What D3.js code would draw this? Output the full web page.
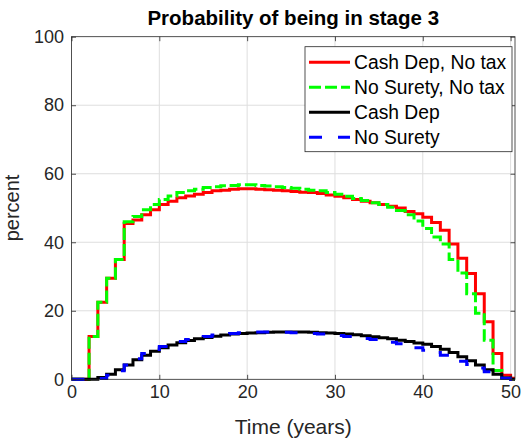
<!DOCTYPE html>
<html>
<head>
<meta charset="utf-8">
<script src="https://cdn.jsdelivr.net/npm/d3@7"></script>
<style>
  body { margin: 0; background: #fff; }
  svg { display: block; font-family: "Liberation Sans", Arial, Helvetica, sans-serif; }
</style>
</head>
<body>
<svg id="chart" width="526" height="442"></svg>
<script>
// Time grid (years); each value holds from its year until the next one
const years = d3.range(0, 51);

// Probability (%) of being in stage 3, per scenario
const cashDepNoTax = [0, 0, 12.5, 22.5, 29.5, 35, 45.5, 46.5, 48, 49.5,
  51, 52, 53, 53.5, 54, 54.5, 55, 55.2, 55.5, 55.6,
  55.6, 55.5, 55.3, 55.2, 55, 54.8, 54.6, 54.5, 54.2, 53.8,
  53.4, 53, 52.5, 52, 51.5, 51, 50.5, 50, 49, 48.3,
  47.3, 45.8, 43.5, 39.5, 35.3, 30.9, 25, 16.8, 7.5, 1.2, 0.3];

const noSuretyNoTax = [0, 0, 12.5, 22.5, 29.5, 35, 46, 47.5, 49.5, 51,
  52.5, 53.5, 54.5, 55, 55.5, 56, 56.2, 56.5, 56.6, 56.8,
  56.8, 56.6, 56.4, 56.2, 56, 55.8, 55.5, 55.2, 55, 54.5,
  54, 53.4, 52.8, 52.2, 51.5, 51, 50.2, 49.3, 48, 46.2,
  44, 41.5, 39.5, 35, 31, 25, 19.3, 11.4, 2.6, 0.3, 0];

const cashDep = [0, 0, 0, 0.5, 1.5, 2.8, 4.2, 5.7, 7, 8.2,
  9.2, 10, 10.7, 11.3, 11.8, 12.2, 12.6, 12.9, 13.2, 13.4,
  13.5, 13.6, 13.7, 13.8, 13.8, 13.8, 13.8, 13.7, 13.6, 13.5,
  13.4, 13.2, 13, 12.7, 12.4, 12.1, 11.8, 11.4, 11, 10.6,
  10.2, 9.6, 8.8, 7.8, 6.6, 5.4, 4.2, 2.8, 1.5, 0.4, 0];

const noSurety = [0, 0, 0, 0.2, 1.2, 2.5, 4.2, 6, 7.5, 8.7,
  9.6, 10.4, 11, 11.6, 12.1, 12.5, 12.9, 13.2, 13.4, 13.6,
  13.7, 13.8, 13.8, 13.8, 13.7, 13.6, 13.5, 13.4, 13.2, 13,
  12.8, 12.5, 12.2, 11.9, 11.6, 11.2, 10.8, 10.4, 9.8, 9.2,
  8.5, 7.8, 7, 6.2, 5.3, 4.3, 3.3, 2.2, 1, 0.3, 0];

const seriesNames = ["Cash Dep, No tax", "No Surety, No tax", "Cash Dep", "No Surety"];
const xTicks = [0, 10, 20, 30, 40, 50];
const yTicks = [0, 20, 40, 60, 80, 100];
const xMax = 50.5;

const series = [
  { name: seriesNames[0], values: cashDepNoTax,  color: "#ff0000", dash: null },
  { name: seriesNames[1], values: noSuretyNoTax, color: "#00ff00", dash: "12,4" },
  { name: seriesNames[2], values: cashDep,       color: "#000000", dash: null },
  { name: seriesNames[3], values: noSurety,      color: "#0000ff", dash: "13,16" }
];

const svg = d3.select("#chart");
const plot = { left: 71.5, right: 515, top: 36.7, bottom: 379.3 };

const x = d3.scaleLinear().domain([0, xMax]).range([plot.left, plot.right]);
const y = d3.scaleLinear().domain([0, 100]).range([plot.bottom, plot.top]);

const axisColor = "#262626";
const gridColor = "#dedede";

// Grid
const grid = svg.append("g");
grid.selectAll("line.gx").data(xTicks.filter(d => d > 0)).join("line")
  .attr("x1", d => x(d)).attr("x2", d => x(d))
  .attr("y1", plot.top).attr("y2", plot.bottom)
  .attr("stroke", gridColor).attr("stroke-width", 1);
grid.selectAll("line.gy").data(yTicks.filter(d => d > 0 && d < 100)).join("line")
  .attr("x1", plot.left).attr("x2", plot.right)
  .attr("y1", d => y(d)).attr("y2", d => y(d))
  .attr("stroke", gridColor).attr("stroke-width", 1);

// Stair lines
const line = d3.line()
  .x(d => x(d[0]))
  .y(d => y(d[1]))
  .curve(d3.curveStepAfter);

const lines = svg.append("g");
series.forEach(s => {
  const pts = years.map((t, i) => [t, s.values[i]]);
  pts.push([xMax, s.values[s.values.length - 1]]);
  lines.append("path")
    .datum(pts)
    .attr("d", line)
    .attr("fill", "none")
    .attr("stroke", s.color)
    .attr("stroke-width", 3)
    .attr("stroke-dasharray", s.dash)
    .attr("stroke-linejoin", "miter");
});

// Axes with inward ticks
const tickLen = 4.5;
const xAxis = svg.append("g")
  .attr("transform", `translate(0,${plot.bottom})`)
  .call(d3.axisBottom(x).tickValues(xTicks).tickFormat(d3.format("d"))
    .tickSizeInner(-tickLen).tickSizeOuter(0).tickPadding(6));
const yAxis = svg.append("g")
  .attr("transform", `translate(${plot.left},0)`)
  .call(d3.axisLeft(y).tickValues(yTicks).tickFormat(d3.format("d"))
    .tickSizeInner(-tickLen).tickSizeOuter(0).tickPadding(7.5));
const xTop = svg.append("g")
  .attr("transform", `translate(0,${plot.top})`)
  .call(d3.axisTop(x).tickValues(xTicks).tickFormat("")
    .tickSizeInner(-tickLen).tickSizeOuter(0));
const yRight = svg.append("g")
  .attr("transform", `translate(${plot.right},0)`)
  .call(d3.axisRight(y).tickValues(yTicks).tickFormat("")
    .tickSizeInner(-tickLen).tickSizeOuter(0));

[xAxis, yAxis, xTop, yRight].forEach(g => {
  g.select(".domain").remove();
  g.selectAll(".tick line").attr("stroke", axisColor).attr("stroke-width", 0.8);
  g.selectAll(".tick text").attr("fill", axisColor)
    .style("font-size", "18px").style("font-family", "'Liberation Sans', Arial, sans-serif");
});

// Axes box
svg.append("rect")
  .attr("x", plot.left).attr("y", plot.top)
  .attr("width", plot.right - plot.left).attr("height", plot.bottom - plot.top)
  .attr("fill", "none").attr("stroke", axisColor).attr("stroke-width", 0.8);

// Title and labels
svg.append("text")
  .attr("x", (plot.left + plot.right) / 2).attr("y", 25)
  .attr("text-anchor", "middle")
  .style("font-size", "20.5px").style("font-weight", "bold").attr("fill", "#000")
  .text("Probability of being in stage 3");

svg.append("text")
  .attr("x", (plot.left + plot.right) / 2).attr("y", 434)
  .attr("text-anchor", "middle")
  .style("font-size", "21px").attr("fill", axisColor)
  .text("Time (years)");

svg.append("text")
  .attr("transform", `translate(19,${(plot.top + plot.bottom) / 2}) rotate(-90)`)
  .attr("text-anchor", "middle")
  .style("font-size", "20px").attr("fill", axisColor)
  .text("percent");

// Legend
const legend = svg.append("g");
const lg = { x: 305, y: 46.7, w: 207, h: 105, row: 25 };
legend.append("rect")
  .attr("x", lg.x).attr("y", lg.y).attr("width", lg.w).attr("height", lg.h)
  .attr("fill", "#fff").attr("stroke", axisColor).attr("stroke-width", 0.8);
series.forEach((s, i) => {
  const cy = lg.y + 15.6 + i * lg.row;
  legend.append("line")
    .attr("x1", lg.x + 4).attr("x2", lg.x + 45)
    .attr("y1", cy).attr("y2", cy)
    .attr("stroke", s.color).attr("stroke-width", 3)
    .attr("stroke-dasharray", s.dash);
  legend.append("text")
    .attr("x", lg.x + 49).attr("y", cy).attr("dy", "0.35em")
    .style("font-size", "19.3px").attr("fill", "#000")
    .text(s.name);
});
</script>
</body>
</html>
